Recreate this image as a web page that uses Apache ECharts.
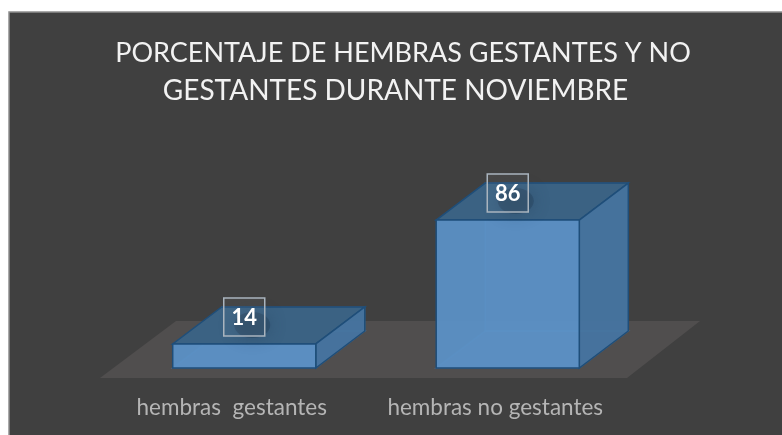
<!DOCTYPE html>
<html>
<head>
<meta charset="utf-8">
<style>
  html, body { margin: 0; padding: 0; background: #fff; }
  #chart { width: 782px; height: 435px; }
</style>
<script src="https://cdn.jsdelivr.net/npm/echarts@6/dist/echarts.min.js"></script>
</head>
<body>
<div id="chart"></div>
<script>
const categories = ['hembras  gestantes', 'hembras no gestantes']
const values = [14, 86]
const titleLines = ['PORCENTAJE DE HEMBRAS GESTANTES Y NO', 'GESTANTES DURANTE NOVIEMBRE']

const FONT = 'Lato'
const STROKE = '#1f4e79'

const chart = echarts.init(document.getElementById('chart'))

// fake 3D: floor depth and the bar depth, in pixels
const floorDx = 76, floorDy = 57
const barDx = 49, barDy = 37
const insetX = 12.5, insetY = 10

function renderFloor(params, api) {
  const { x, y, width, height } = params.coordSys
  const b = y + height
  return {
    type: 'polygon',
    shape: { points: [[x, b], [x + width, b], [x + width + floorDx - 3, b - floorDy], [x + floorDx, b - floorDy]] },
    style: { fill: '#504e4e' },
  }
}

function face(points, fill, stroke) {
  return { type: 'polygon', shape: { points }, style: { fill, stroke: stroke || STROKE, lineWidth: 1.5 } }
}

function renderBar(params, api) {
  const base = api.coord([api.value(0), 0])
  const w = api.size([1, 0])[0] * 0.543
  const h = api.size([0, api.value(1)])[1]
  const l = base[0] + insetX - w / 2
  const r = l + w
  const bot = base[1] - insetY
  const top = bot - h
  const cx = l + w / 2
  const boxW = 41, boxH = 38
  const boxCy = top - 27
  return {
    type: 'group',
    children: [
      // back edges, seen through the front
      face([[l + barDx, top - barDy], [r + barDx, top - barDy], [r + barDx, bot - barDy], [l + barDx, bot - barDy]], 'rgba(91,143,195,0.2)', 'rgba(80,140,200,0.35)'),
      face([[l, bot], [r, bot], [r + barDx, bot - barDy], [l + barDx, bot - barDy]], 'rgba(91,143,195,0.2)', 'rgba(80,140,200,0.35)'),
      face([[l, top], [r, top], [r + barDx, top - barDy], [l + barDx, top - barDy]], '#3b6283'),
      face([[r, top], [r + barDx, top - barDy], [r + barDx, bot - barDy], [r, bot]], 'rgba(70,116,160,0.95)'),
      face([[l, top], [r, top], [r, bot], [l, bot]], 'rgba(91,146,200,0.93)'),
      // soft shadow under the label box
      {
        type: 'ellipse',
        shape: { cx: cx + 8, cy: boxCy + 8, rx: 18, ry: 13 },
        style: { fill: 'rgba(35,60,85,0.38)', shadowBlur: 16, shadowColor: 'rgba(35,60,85,1)' },
      },
      {
        type: 'rect',
        shape: { x: cx - boxW / 2, y: boxCy - boxH / 2, width: boxW, height: boxH },
        style: { fill: 'rgba(255,255,255,0.04)', stroke: '#a9b4be', lineWidth: 1.5 },
      },
      {
        type: 'text',
        style: {
          x: cx, y: boxCy + 0.5, text: String(api.value(1)),
          align: 'center', verticalAlign: 'middle',
          fill: '#fff', font: 'bold 22px ' + FONT,
        },
      },
    ],
  }
}

chart.setOption({
  animation: false,
  backgroundColor: 'transparent',
  title: titleLines.map((text, i) => ({
    text,
    left: i === 0 ? 398 : 390.5,
    top: i === 0 ? 35 : 72,
    textAlign: 'center',
    textStyle: { color: '#f2f2f2', fontFamily: FONT, fontWeight: 'normal', fontSize: i === 0 ? 27 : 28 },
  })),
  graphic: [{
    type: 'rect',
    z: -10,
    shape: { x: 9, y: 12, width: 790, height: 440 },
    style: { fill: '#404040', stroke: '#8f8f8f', lineWidth: 1.5 },
  }],
  grid: { left: 100, right: 155, top: 206, bottom: 57 },
  xAxis: {
    type: 'category',
    data: categories,
    axisLine: { show: false },
    axisTick: { show: false },
    axisLabel: { color: '#b5b5b5', fontFamily: FONT, fontSize: 22.5, margin: 18, interval: 0 },
  },
  yAxis: { type: 'value', min: 0, max: 100, show: false },
  series: [
    { type: 'custom', renderItem: renderFloor, data: [[0, 0]], z: 1, silent: true },
    {
      type: 'custom',
      renderItem: renderBar,
      data: values.map((v, i) => [i, v]),
      encode: { x: 0, y: 1 },
      z: 2,
    },
  ],
})
</script>
</body>
</html>
